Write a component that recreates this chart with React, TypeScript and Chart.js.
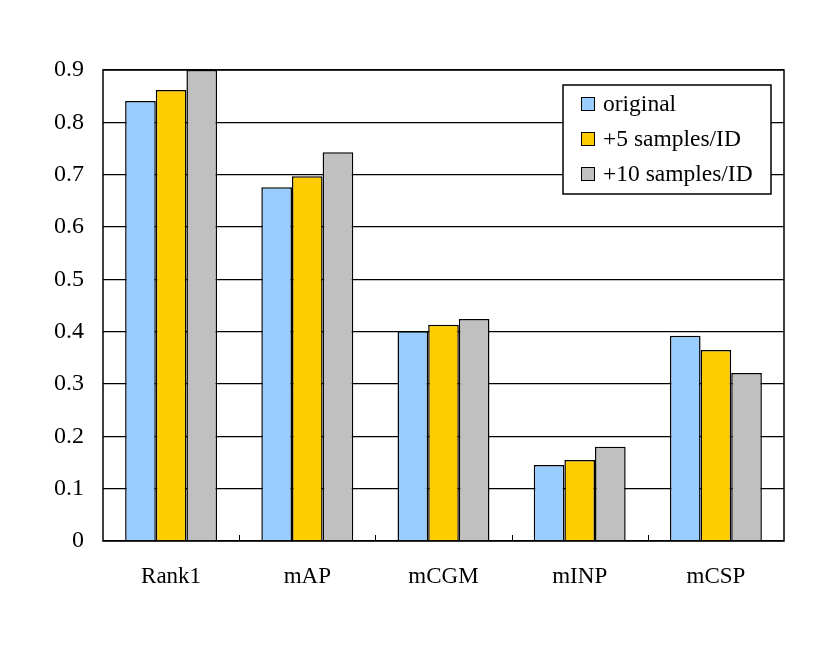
import { useEffect, useRef } from "react";
import { Chart, registerables, Plugin } from "chart.js";

Chart.register(...registerables);

const categories = ["Rank1", "mAP", "mCGM", "mINP", "mCSP"];
const original = [0.841, 0.676, 0.401, 0.145, 0.392];
const plus5 = [0.862, 0.697, 0.413, 0.155, 0.365];
const plus10 = [0.9, 0.743, 0.424, 0.18, 0.321];
const seriesNames = ["original", "+5 samples/ID", "+10 samples/ID"];
const seriesColors = ["#99CCFF", "#FFCC00", "#C0C0C0"];

const FONT = "'Liberation Serif', 'DejaVu Serif', serif";

// frame round the plot and small inward ticks between categories
const framePlugin: Plugin = {
  id: "frame",
  afterDatasetsDraw(chart) {
    const { ctx, chartArea } = chart;
    const x = chart.scales.x;
    ctx.save();
    ctx.strokeStyle = "#000";
    ctx.lineWidth = 1.5;
    ctx.strokeRect(chartArea.left, chartArea.top, chartArea.right - chartArea.left, chartArea.bottom - chartArea.top);
    ctx.lineWidth = 1;
    for (let i = 0; i < categories.length - 1; i++) {
      const px = Math.round((x.getPixelForValue(i) + x.getPixelForValue(i + 1)) / 2) + 0.5;
      ctx.beginPath();
      ctx.moveTo(px, chartArea.bottom);
      ctx.lineTo(px, chartArea.bottom - 6);
      ctx.stroke();
    }
    ctx.restore();
  },
};

// legend box inside the plot, top right
const legendPlugin: Plugin = {
  id: "boxLegend",
  afterDraw(chart) {
    const { ctx } = chart;
    const bx = 563;
    const by = 85;
    const bw = 208;
    const bh = 109;
    ctx.save();
    ctx.fillStyle = "#fff";
    ctx.fillRect(bx, by, bw, bh);
    ctx.strokeStyle = "#000";
    ctx.lineWidth = 1.5;
    ctx.strokeRect(bx, by, bw, bh);
    ctx.font = `23.5px ${FONT}`;
    ctx.textBaseline = "middle";
    seriesNames.forEach((name, i) => {
      const cy = by + 19 + i * 35;
      ctx.fillStyle = seriesColors[i];
      ctx.fillRect(bx + 18, cy - 7, 14, 14);
      ctx.lineWidth = 1;
      ctx.strokeRect(bx + 18.5, cy - 6.5, 13, 13);
      ctx.fillStyle = "#000";
      ctx.fillText(name, bx + 40, cy + 1);
    });
    ctx.restore();
  },
};

export default function App() {
  const ref = useRef<HTMLCanvasElement | null>(null);

  useEffect(() => {
    if (!ref.current) return;
    const values = [original, plus5, plus10];
    const chart = new Chart(ref.current, {
      type: "bar",
      data: {
        labels: categories,
        datasets: seriesNames.map((name, i) => ({
          label: name,
          data: values[i],
          backgroundColor: seriesColors[i],
          borderColor: "#000",
          borderWidth: 1.5,
          categoryPercentage: 0.675,
          barPercentage: 1,
        })),
      },
      options: {
        animation: false,
        responsive: false,
        devicePixelRatio: 1,
        layout: { padding: { left: 0, right: 47, top: 70, bottom: 0 } },
        plugins: { legend: { display: false }, tooltip: { enabled: false } },
        scales: {
          x: {
            grid: { display: false },
            border: { display: false },
            ticks: { color: "#000", font: { family: FONT, size: 23 }, padding: 14 },
            afterFit(scale) {
              scale.height = 104;
            },
          },
          y: {
            min: 0,
            max: 0.9,
            grid: { color: "#000", lineWidth: 1.2, drawTicks: false },
            border: { display: false },
            ticks: {
              stepSize: 0.1,
              color: "#000",
              padding: 19,
              font: { family: FONT, size: 24 },
              callback: (v) => (Number(v) === 0 ? "0" : Number(v).toFixed(1)),
            },
            afterFit(scale) {
              scale.width = 103;
            },
          },
        },
      },
      plugins: [framePlugin, legendPlugin],
    });
    return () => chart.destroy();
  }, []);

  return (
    <div style={{ position: "absolute", left: 0, top: 0, width: 831, height: 645, background: "#fff" }}>
      <canvas ref={ref} width={831} height={645} />
    </div>
  );
}
